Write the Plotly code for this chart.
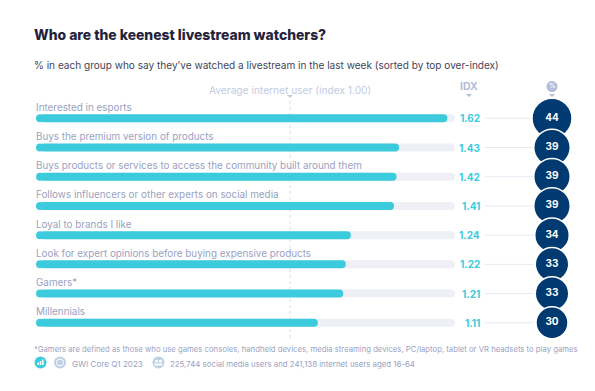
import plotly.graph_objects as go

W, H = 595, 391
categories = ["Interested in esports", "Buys the premium version of products",
              "Buys products or services to access the community built around them",
              "Follows influencers or other experts on social media", "Loyal to brands I like",
              "Look for expert opinions before buying expensive products", "Gamers*", "Millennials"]
idx_values = [1.62, 1.43, 1.42, 1.41, 1.24, 1.22, 1.21, 1.11]
pct_values = [44, 39, 39, 39, 34, 33, 33, 30]
track_max = [1.65] * 8
average_index = [1.00]
circle_sizes = [40, 36.5, 36.5, 36.5, 34.5, 33.5, 33.5, 32]

FONT = "Inter"
TEAL, NAVY, TRACK = "#3ccbdc", "#003a70", "#eef0f6"
LABEL, FAINT = "#9aa2bf", "#c3cbe2"
ICON = "#bdd0e6"

px = lambda x: x / W
py = lambda y: 1 - y / H

# Bars start half a bar height in, where a round cap marker closes the left end.
BAR_PX = 8
CAP = (BAR_PX / 2) / ((455 - 36) / 1.65)

fig = go.Figure()
fig.add_trace(go.Bar(y=categories, x=[v - CAP for v in track_max], base=CAP, orientation="h",
                     marker=dict(color=TRACK, line_width=0, cornerradius="50%"), width=0.274, hoverinfo="skip"))
fig.add_trace(go.Bar(y=categories, x=[v - CAP for v in idx_values], base=CAP, orientation="h",
                     marker=dict(color=TEAL, line_width=0, cornerradius="50%"), width=0.274, hoverinfo="skip"))
fig.add_trace(go.Scatter(x=[CAP] * 8, y=categories, mode="markers", cliponaxis=False, hoverinfo="skip",
                         marker=dict(color=TEAL, opacity=1, size=BAR_PX, line_width=0)))
fig.add_trace(go.Scatter(x=["%"] * 8, y=categories, mode="markers+text", xaxis="x2", yaxis="y", cliponaxis=False,
                         marker=dict(color=NAVY, opacity=1, size=circle_sizes, sizemode="diameter", line=dict(color="white", width=1.5)),
                         text=[str(v) for v in pct_values], textposition="middle center",
                         textfont=dict(family=FONT, color="white", size=10, weight=700)))

ann = []
for c, v in zip(categories, idx_values):
    ann.append(dict(x=px(34), xref="paper", y=c, yref="y", text=c, showarrow=False, xanchor="left", yanchor="middle",
                    yshift=11.5, font=dict(family=FONT, size=9.87, color=LABEL)))
    ann.append(dict(x=px(482), xref="paper", y=c, yref="y", text=f"{v:.2f}", showarrow=False, xanchor="right", yanchor="middle",
                    font=dict(family=FONT, size=10, color=TEAL, weight=700)))

def text(x, y, t, size, color, weight=400, anchor="left"):
    ann.append(dict(x=px(x), y=py(y), xref="paper", yref="paper", text=t, showarrow=False, xanchor=anchor, yanchor="middle",
                    font=dict(family=FONT, size=size, color=color, weight=weight)))

text(32, 35, "Who are the keenest livestream watchers?", 13.9, "#23233b", 800)
text(32, 65, "% in each group who say they’ve watched a livestream in the last week (sorted by top over-index)", 10.05, "#44445a")
text(290, 90, "Average internet user (index 1.00)", 10.2, FAINT, anchor="center")
text(469, 86, "IDX", 10.5, "#b4bcd6", 700, "center")
text(552, 86.5, "%", 6.5, "white", 700, "center")
text(32, 349.5, "*Gamers are defined as those who use games consoles, handheld devices, media streaming devices, PC/laptop, tablet or VR headsets to play games", 7.73, LABEL)
text(70, 363.5, "GWI Core Q1 2023", 8.1, LABEL)
text(168, 363.5, "225,744 social media users and 241,138 internet users aged 16-64", 7.85, LABEL)

shapes = [dict(type="line", xref="x", yref="paper", x0=average_index[0], x1=average_index[0], y0=py(338), y1=py(98),
               line=dict(color="#d5dbea", width=1, dash="dot"), layer="below")]
for c in categories:
    shapes.append(dict(type="line", xref="paper", yref="y", x0=px(485), x1=px(534), y0=c, y1=c,
                       line=dict(color="#e6eaf3", width=1), layer="below"))
def circle(x, y, r, color, line=None):
    shapes.append(dict(type="circle", xref="paper", yref="paper", x0=px(x - r), x1=px(x + r), y0=py(y + r), y1=py(y - r),
                       fillcolor=color, line=dict(color=line or color, width=1 if line else 0)))
def tri(x, y, color):
    shapes.append(dict(type="path", xref="paper", yref="paper", fillcolor=color, line_width=0,
                       path=f"M {px(x-3)} {py(y)} L {px(x+3)} {py(y)} L {px(x)} {py(y+3)} Z"))
def rect(x0, y0, x1, y1, color):
    shapes.append(dict(type="rect", xref="paper", yref="paper", x0=px(x0), x1=px(x1), y0=py(y1), y1=py(y0),
                       fillcolor=color, line_width=0))
tri(290, 95, FAINT); tri(469, 94, "#b4bcd6"); tri(552, 94, "#b4bcd6")
circle(552, 86.5, 5.5, "#b4bcd6")
circle(40.5, 362.5, 6, TEAL)
rect(37.5, 362.5, 39, 365, "white"); rect(39.8, 361, 41.3, 365, "white"); rect(42.1, 359.5, 43.6, 365, "white")
circle(60, 362.5, 6, ICON)
circle(60, 362.5, 3.5, ICON, "white")
circle(158.5, 362.5, 6, ICON)
circle(156.5, 361, 1.6, "white"); circle(160.5, 361, 1.6, "white")
rect(154.5, 363.5, 162.5, 365.5, "white")

fig.update_layout(
    width=W, height=H, margin=dict(l=0, r=0, t=0, b=0), paper_bgcolor="white", plot_bgcolor="white",
    barmode="overlay", showlegend=False, annotations=ann, shapes=shapes,
    xaxis=dict(domain=[px(36), px(455)], range=[0, 1.65], visible=False, fixedrange=True),
    xaxis2=dict(domain=[px(509), px(595)], visible=False, type="category", fixedrange=True, anchor="y",
                range=[-0.5, 0.5]),
    yaxis=dict(domain=[py(337.4), py(103.7)], type="category", categoryorder="array", categoryarray=categories[::-1],
               range=[-0.5, 7.5], visible=False, fixedrange=True),
)
fig.write_html("out.html", post_script="document.body.style.margin='0';", config={"displayModeBar": False})
